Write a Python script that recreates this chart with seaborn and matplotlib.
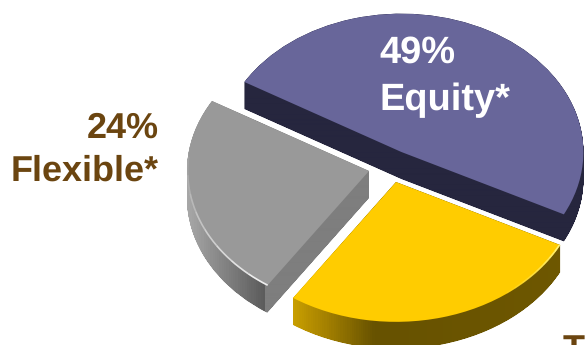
import numpy as np
import matplotlib
matplotlib.use("Agg")
import matplotlib.pyplot as plt
from matplotlib.colors import LinearSegmentedColormap
from matplotlib.patches import Arc, PathPatch
from matplotlib.path import Path
import seaborn as sns

# Allocation shares, in percent
categories = ["Equity", "Flexible", "Traditional"]
shares = [49, 24, 27]
top_colors = ["#68669a", "#999999", "#ffcc00"]

sns.set_theme(style="white")
plt.rcParams["font.family"] = ["Liberation Sans", "DejaVu Sans"]
plt.rcParams["text.hinting"] = "no_hinting"
plt.rcParams["text.hinting_factor"] = 1

W, H = 585, 345
SQUASH = 0.76        # vertical foreshortening of the tilted disc
DEPTH = 27
START = -26.8        # angle where the Equity slice begins

fig = plt.figure(figsize=(W / 100, H / 100), dpi=100)
ax = fig.add_axes([0, 0, 1, 1])


def yd(py):
    """Height measured down from the top edge, in data units."""
    return (H - py) / SQUASH


def finish_axes():
    ax.set_aspect("auto")
    ax.set_xlim(0, W)
    ax.set_ylim(0, H / SQUASH)
    ax.set_axis_off()


def extrude(wedge, stops, zorder):
    """Sweep a slice downward and fill the swept body with a left-right shade."""
    outline = wedge.get_path().transformed(wedge.get_transform() - ax.transData)
    layers = []
    for d in np.arange(0, DEPTH + 0.5, 0.5):
        layers.append(Path(outline.vertices - [0, d / SQUASH], outline.codes))
    body = PathPatch(Path.make_compound_path(*layers), fc="none", ec="none",
                     transform=ax.transData)
    ax.add_patch(body)
    cmap = LinearSegmentedColormap.from_list("side", stops)
    image = ax.imshow(np.linspace(0, 1, 585)[None, :], extent=(0, W, 0, H / SQUASH),
                      cmap=cmap, vmin=0, vmax=1, aspect="auto", zorder=zorder,
                      interpolation="bilinear")
    image.set_clip_path(body)


def x_stop(px):
    return px / W


# Slice hubs in figure pixels, radii, and the shading of each slice's wall
hubs = {"Equity": (401.4, 152), "Flexible": (369, 171), "Traditional": (396, 182)}
radii = {"Equity": 182, "Flexible": 182, "Traditional": 184}
walls = {
    "Equity": [(0, "#26263e"), (1, "#26263e")],
    "Flexible": [(0, "#a8a8a8"), (x_stop(187), "#a8a8a8"), (x_stop(215), "#8c8c8c"),
                 (x_stop(264), "#5c5c5c"), (x_stop(266), "#7e7e7e"), (1, "#7e7e7e")],
    "Traditional": [(0, "#c99f00"), (x_stop(293), "#c99f00"), (x_stop(325), "#a68200"),
                    (x_stop(375), "#675200"), (1, "#6f5800")],
}

angle = START
rims = {}
for z, (name, share, color) in enumerate(zip(categories, shares, top_colors)):
    sweep = share * 3.6
    cx, cy = hubs[name]
    wedges, _ = ax.pie([share / 100], normalize=False, colors=[color], startangle=angle,
                       radius=radii[name], center=(cx, yd(cy)), frame=False,
                       wedgeprops={"linewidth": 0})
    wedges[0].set_zorder(2 * z + 3)
    extrude(wedges[0], walls[name], 2 * z + 2)
    rims[name] = (cx, yd(cy), angle, angle + sweep)
    angle += sweep

finish_axes()

# Thin light bevel along the lower rims, fading in toward the front of each slice
for name, color, span in [("Flexible", "#eeeeee", 62), ("Traditional", "#fff176", 26)]:
    cx, cy, a0, a1 = rims[name]
    d = 2 * radii[name] - 1.5
    steps = np.linspace(0, span, 9)
    for i, (s0, s1) in enumerate(zip(steps[:-1], steps[1:])):
        ax.add_patch(Arc((cx, cy), d, d, theta1=a1 - s1, theta2=a1 - s0,
                         color=color, lw=1.2, alpha=1 - i / 8, zorder=20))

BROWN = "#6b4510"
ax.text(379, yd(63), "49%", color="white", fontsize=27.5, fontweight="bold", zorder=30)
ax.text(379, yd(110), "Equity*", color="white", fontsize=27.5, fontweight="bold", zorder=30)
ax.text(159, yd(138), "24%", color=BROWN, fontsize=25.6, fontweight="bold", ha="right", zorder=30)
ax.text(159, yd(181), "Flexible*", color=BROWN, fontsize=25.6, fontweight="bold", ha="right", zorder=30)
ax.text(563, yd(360), "T", color=BROWN, fontsize=25.6, fontweight="bold", zorder=30, clip_on=False)

fig.savefig("out.png", dpi=100, facecolor="white")
